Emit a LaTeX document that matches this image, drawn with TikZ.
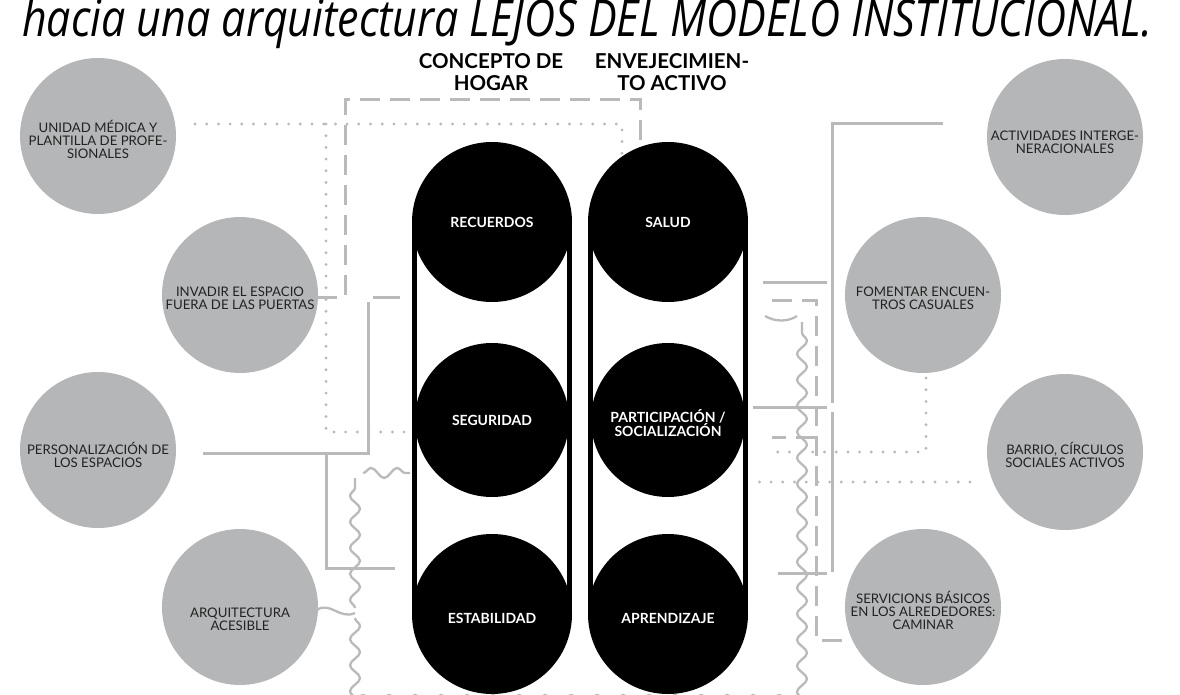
\documentclass[tikz,border=0pt]{standalone}
\usepackage{fontspec}
\usepackage{graphicx}
\setmainfont{Lato}
\newfontfamily\titlefont{Open Sans}
\usetikzlibrary{decorations.pathmorphing}
\definecolor{cgray}{HTML}{B5B6B8}
\definecolor{lgray}{HTML}{BABABA}
\definecolor{tgray}{HTML}{222222}
\begin{document}
\begin{tikzpicture}[x=1pt,y=-1pt,
  gcirc/.style={circle,fill=cgray,minimum size=156pt,inner sep=0pt},
  gtext/.style={align=center,inner sep=0pt,text=tgray,font=\fontsize{13.2}{13}\selectfont},
  bcirc/.style={circle,fill=black,minimum size=160pt,inner sep=0pt},
  mcirc/.style={circle,fill=black,minimum size=154pt,inner sep=0pt},
  btext/.style={align=center,inner sep=0pt,text=white,font=\bfseries\fontsize{14}{14}\selectfont},
  head/.style={align=center,inner sep=0pt,font=\bfseries\fontsize{20.5}{22}\selectfont},
  solidc/.style={draw=lgray,line width=3pt},
  dashc/.style={draw=lgray,line width=3pt,dash pattern=on 20pt off 10pt},
  dotc/.style={draw=lgray,line width=3.2pt,line cap=round,dash pattern=on 0pt off 11.7pt},
  wavec/.style={draw=lgray,line width=2.3pt,decorate,decoration={snake,segment length=26pt,amplitude=5pt}},
  curvec/.style={draw=lgray,line width=2.3pt},
  side/.style={draw=black,line width=5pt}
]
\useasboundingbox (0,0) rectangle (1180,695);
\clip (0,0) rectangle (1180,695);

% title
\node[anchor=base west,inner sep=0pt] (title) at (22,37)
  {\resizebox{1130pt}{\height}{\titlefont\itshape\fontsize{51}{53}\selectfont hacia una arquitectura LEJOS DEL MODELO INSTITUCIONAL.}};

% headers
\node[head] (hogar) at (491,72) {CONCEPTO DE\\HOGAR};
\node[head] (activo) at (672,72) {ENVEJECIMIEN-\\TO ACTIVO};

% capsules
\node[bcirc] (recuerdos) at (492,222) {};
\node[bcirc] (estabilidad) at (492,614) {};
\node[mcirc] (seguridad) at (492,420) {};
\node[bcirc] (salud) at (668,222) {};
\node[bcirc] (aprend) at (668,614) {};
\node[mcirc] (particip) at (668,420) {};
\draw[side] ([xshift=2.5pt]recuerdos.center -| recuerdos.west) -- ([xshift=2.5pt]estabilidad.center -| estabilidad.west);
\draw[side] ([xshift=-2.5pt]recuerdos.center -| recuerdos.east) -- ([xshift=-2.5pt]estabilidad.center -| estabilidad.east);
\draw[side] ([xshift=2.5pt]salud.center -| salud.west) -- ([xshift=2.5pt]aprend.center -| aprend.west);
\draw[side] ([xshift=-2.5pt]salud.center -| salud.east) -- ([xshift=-2.5pt]aprend.center -| aprend.east);
\node[btext] (t-rec) at (recuerdos) {RECUERDOS};
\node[btext] (t-seg) at (seguridad) {SEGURIDAD};
\node[btext] (t-est) at ([yshift=-4pt]estabilidad.center) {ESTABILIDAD};
\node[btext] (t-sal) at (salud) {SALUD};
\node[btext] (t-par) at ([yshift=-3pt]particip.center) {PARTICIPACIÓN /\\SOCIALIZACIÓN};
\node[btext] (t-apr) at ([yshift=-4pt]aprend.center) {APRENDIZAJE};

% gray circles
\node[gcirc] (unidad) at (98,136) {};
\node[gcirc] (invadir) at (240,295) {};
\node[gcirc] (personal) at (98,450) {};
\node[gcirc] (arqui) at (240,607) {};
\node[gcirc] (activ) at (1065,137) {};
\node[gcirc] (fomentar) at (923,295) {};
\node[gcirc] (barrio) at (1065,452) {};
\node[gcirc] (servicios) at (923,607) {};
\node[gtext] (t-uni) at ([yshift=-3pt]unidad.center) {UNIDAD MÉDICA Y\\PLANTILLA DE PROFE-\\SIONALES};
\node[gtext] (t-inv) at ([yshift=-3pt]invadir.center) {INVADIR EL ESPACIO\\FUERA DE LAS PUERTAS};
\node[gtext] (t-per) at ([yshift=-5pt]personal.center) {PERSONALIZACIÓN DE\\LOS ESPACIOS};
\node[gtext] (t-arq) at ([yshift=-12pt]arqui.center) {ARQUITECTURA\\ACESIBLE};
\node[gtext] (t-act) at ([yshift=-5pt]activ.center) {ACTIVIDADES INTERGE-\\NERACIONALES};
\node[gtext] (t-fom) at ([yshift=-3pt]fomentar.center) {FOMENTAR ENCUEN-\\TROS CASUALES};
\node[gtext] (t-bar) at ([yshift=-3pt]barrio.center) {BARRIO, CÍRCULOS\\SOCIALES ACTIVOS};
\node[gtext] (t-ser) at ([yshift=-3pt]servicios.center) {SERVICIONS BÁSICOS\\EN LOS ALREDEDORES:\\CAMINAR};

% ---- connectors: left ----
\coordinate (u0) at (195,124);
\coordinate (u1) at (622,157);
\coordinate (u2) at (326,124);
\coordinate (u3) at (412,432);
\draw[dotc] (u0) -- (622,124) -- (u1);
\draw[dotc] (u2) -- (326,432) -- (u3);

\coordinate (i0) at (317,297);
\coordinate (i1) at (640,147);
\draw[dashc] (i0) -- (345,297) -- (345,100) -- (640,100) -- (i1);
\coordinate (i2) at (373,297);
\coordinate (i3) at (400,297);
\draw[solidc] (i2) -- (i3);

\coordinate (p0) at (203,453);
\coordinate (p1) at (368,302);
\coordinate (p2) at (326,453);
\coordinate (p3) at (395,568);
\draw[solidc] (p0) -- (368,453) -- (p1);
\draw[solidc] (p2) -- (326,568) -- (p3);

\coordinate (a0) at (317,610);
\coordinate (a1) at (355,613);
\draw[curvec] (a0) .. controls (330,601) and (340,620) .. (a1);
\coordinate (w0) at (355,608);
\coordinate (w1) at (355,478);
\coordinate (w2) at (363,473);
\coordinate (w3) at (410,473);
\coordinate (w4) at (355,618);
\coordinate (w5) at (355,700);
\coordinate (w6) at (802,700);
\coordinate (w7) at (802,322);
\draw[wavec] (w0) -- (w1);
\draw[wavec] (w2) -- (w3);
\draw[wavec] (w4) -- (w5);
\draw[wavec] (w5) -- (w6);
\draw[wavec] (w6) -- (w7);
\coordinate (w8) at (797,316);
\coordinate (w9) at (765,316);
\draw[curvec] (w9) .. controls (775,322) and (788,322) .. (w8);

% ---- connectors: right ----
\coordinate (r0) at (943,124);
\coordinate (r1) at (832,403);
\coordinate (r2) at (832,412);
\coordinate (r3) at (832,572);
\draw[solidc] (r0) -- (832,124) -- (r1);
\draw[solidc] (r2) -- (r3);
\coordinate (r4) at (827,282);
\coordinate (r5) at (763,282);
\coordinate (r6) at (827,407);
\coordinate (r7) at (753,407);
\coordinate (r8) at (827,573);
\coordinate (r9) at (778,573);
\draw[solidc] (r4) -- (r5);
\draw[solidc] (r6) -- (r7);
\draw[solidc] (r8) -- (r9);

\coordinate (f0) at (926,378);
\coordinate (f1) at (767,452);
\draw[dotc] (f0) -- (926,452) -- (f1);
\coordinate (b0) at (970,482);
\coordinate (b1) at (748,482);
\draw[dotc] (b0) -- (b1);

\coordinate (s0) at (842,640);
\coordinate (s1) at (772,300);
\coordinate (s2) at (816,437);
\coordinate (s3) at (772,437);
\draw[dashc] (s0) -- (816,640) -- (816,300) -- (s1);
\draw[dashc] (s2) -- (s3);
\end{tikzpicture}
\end{document}
